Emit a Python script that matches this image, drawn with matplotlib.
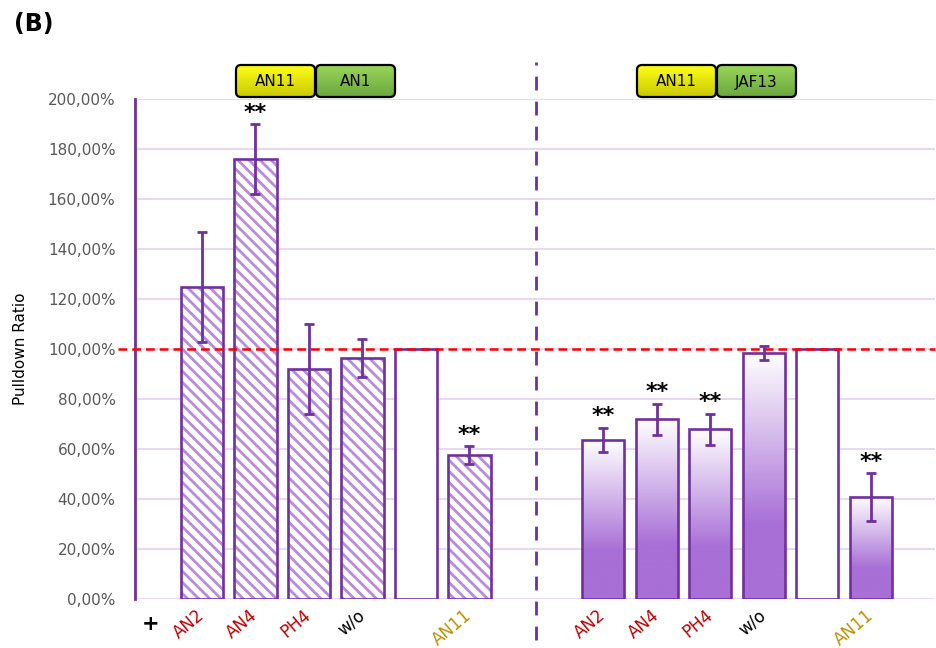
import numpy as np
import matplotlib
matplotlib.use("Agg")
import matplotlib.pyplot as plt
from matplotlib.colors import LinearSegmentedColormap
from matplotlib.patches import FancyBboxPatch
from matplotlib.ticker import FuncFormatter

# ---------- data ----------
labels = ["AN2", "AN4", "PH4", "w/o", "", "AN11"]
label_colors = ["#c00000", "#c00000", "#c00000", "black", "black", "#bf9000"]
is_ref = [False, False, False, False, True, False]

# AN11 + AN1 pulldown (hatched bars)
an1_mean = [125.0, 176.0, 92.0, 96.4, 100.0, 57.6]
an1_err = [22.0, 14.0, 18.0, 7.6, 0.0, 3.6]
an1_sig = [False, True, False, False, False, True]

# AN11 + JAF13 pulldown (gradient bars)
jaf13_mean = [63.6, 71.9, 67.9, 98.5, 100.0, 40.9]
jaf13_err = [4.9, 6.3, 6.2, 2.8, 0.0, 9.6]
jaf13_sig = [True, True, True, False, False, True]

# colours
PURPLE = "#7030a0"
HATCH = "#b88ae0"
GRID = "#e6d4f3"
BAR_BOTTOM = "#a86fd6"

plt.rcParams["font.family"] = ["DejaVu Sans"]
plt.rcParams["hatch.linewidth"] = 2.0

fig = plt.figure(figsize=(9.37, 6.48), dpi=100)
ax = fig.add_axes([135 / 937, 1 - 599 / 648, 800 / 937, 500 / 648])

x_left = np.arange(1, 7)
x_right = np.arange(1, 7) + 7.5
width = 0.79

# gradient: solid purple at the bottom, fading to white at the top
grad_cmap = LinearSegmentedColormap.from_list(
    "fade", [(0.0, BAR_BOTTOM), (0.3, BAR_BOTTOM), (1.0, "white")])
grad = np.linspace(0, 1, 256).reshape(-1, 1)

for x, m, ref in zip(x_left, an1_mean, is_ref):
    if not ref:
        ax.bar(x, m, width, facecolor="white", edgecolor=HATCH, hatch="\\\\\\",
               lw=0, zorder=2)
    ax.bar(x, m, width, facecolor="white" if ref else "none",
           edgecolor=PURPLE, lw=1.9, zorder=3)

for x, m, ref in zip(x_right, jaf13_mean, is_ref):
    if not ref:
        ax.imshow(grad, cmap=grad_cmap, origin="lower", aspect="auto",
                  extent=[x - width / 2, x + width / 2, 0, m], zorder=2)
    ax.bar(x, m, width, facecolor="white" if ref else "none",
           edgecolor=PURPLE, lw=1.9, zorder=3)

# error bars and significance stars
for xs, means, errs, sigs in [(x_left, an1_mean, an1_err, an1_sig),
                              (x_right, jaf13_mean, jaf13_err, jaf13_sig)]:
    for x, m, e, s in zip(xs, means, errs, sigs):
        if e > 0:
            ax.errorbar(x, m, yerr=e, fmt="none", ecolor=PURPLE, elinewidth=2,
                        capsize=3.5, capthick=2, zorder=4)
        if s:
            ax.text(x, m + e + 0.5, "**", ha="center", va="bottom",
                    fontsize=16, fontweight="bold", color="black", zorder=5)

# reference line at 100 %
ax.axhline(100, xmin=-0.021, xmax=1, color="red", ls=(0, (3.5, 2)), lw=1.8,
           clip_on=False, zorder=6)

# separator between the two pulldowns
ax.axvline(7.25, ymin=-0.082, ymax=1.074, color=PURPLE, ls=(0, (5, 4)),
           lw=2, clip_on=False, zorder=6)

# axes styling
ax.set_xlim(-0.25, 14.7)
ax.set_ylim(0, 200)
ax.set_yticks(np.arange(0, 201, 20))
ax.yaxis.set_major_formatter(
    FuncFormatter(lambda v, p: f"{v:.2f}".replace(".", ",") + "%"))
ax.tick_params(axis="y", length=0, pad=14, labelsize=11, labelcolor="#595959")
ax.grid(axis="y", color=GRID, lw=1.3, zorder=0)
ax.set_axisbelow(True)
for side in ["top", "right", "bottom"]:
    ax.spines[side].set_visible(False)
ax.spines["left"].set_color(PURPLE)
ax.spines["left"].set_linewidth(2)
ax.set_ylabel("Pulldown Ratio", fontsize=11, labelpad=14)

xticks = np.concatenate([x_left, x_right])
ax.set_xticks(xticks, labels + labels)
ax.tick_params(axis="x", length=0, pad=10, labelsize=12)
for lbl, c in zip(ax.get_xticklabels(), label_colors + label_colors):
    lbl.set_color(c)
    lbl.set_rotation(40)
    lbl.set_ha("right")
    lbl.set_va("center")
    lbl.set_rotation_mode("anchor")

ax.text(0.05, -0.05, "+", transform=ax.get_xaxis_transform(), ha="center",
        va="center", fontsize=15, fontweight="bold", clip_on=False)

# construct headers drawn in pixel coordinates
over = fig.add_axes([0, 0, 1, 1], zorder=10)
over.set_xlim(0, 937)
over.set_ylim(648, 0)
over.axis("off")
over.patch.set_alpha(0)

def header_box(x0, x1, text, top_col, bot_col):
    y0, y1 = 65, 97
    box = FancyBboxPatch((x0, y0), x1 - x0, y1 - y0,
                         boxstyle="round,pad=0,rounding_size=5",
                         facecolor="none", edgecolor="black", lw=1.6, zorder=3)
    over.add_patch(box)
    cmap = LinearSegmentedColormap.from_list("hdr", [bot_col, top_col])
    im = over.imshow(grad, cmap=cmap, origin="lower", aspect="auto",
                     extent=[x0, x1, y1, y0], zorder=2)
    im.set_clip_path(box)
    over.text((x0 + x1) / 2, (y0 + y1) / 2 + 1, text, ha="center",
              va="center", fontsize=11, color="black", zorder=4)

YEL_TOP, YEL_BOT = "#ffff1a", "#c8c800"
GRN_TOP, GRN_BOT = "#9ad65a", "#6aa63c"
header_box(236, 315, "AN11", YEL_TOP, YEL_BOT)
header_box(316, 395, "AN1", GRN_TOP, GRN_BOT)
header_box(637, 716, "AN11", YEL_TOP, YEL_BOT)
header_box(717, 796, "JAF13", GRN_TOP, GRN_BOT)

over.set_xlim(0, 937)
over.set_ylim(648, 0)

fig.text(14 / 937, 1 - 24 / 648, "(B)", fontsize=17, fontweight="bold",
         va="center", ha="left")

fig.savefig("out.png", dpi=100)
